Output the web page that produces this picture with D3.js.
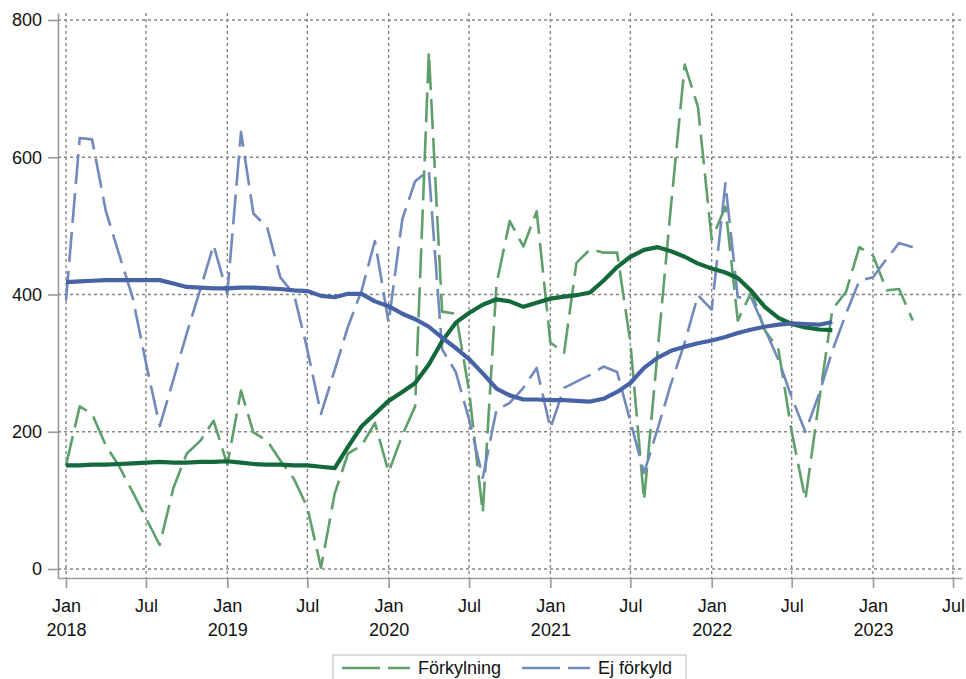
<!DOCTYPE html>
<html>
<head>
<meta charset="utf-8">
<script src="https://cdn.jsdelivr.net/npm/d3@7"></script>
<style>
  body { margin: 0; background: #fff; }
  svg { display: block; }
  text { font-family: "Liberation Sans", Arial, Helvetica, sans-serif; fill: #111; }
</style>
</head>
<body>
<svg id="chart" width="966" height="679"></svg>
<script>
// Monthly counts, January 2018 onwards
const firstYear = 2018;
const forkylning = [
  151, 237, 226, 180, 150, 112, 74, 35, 118, 168, 187, 216,
  152, 260, 199, 187, 158, 131, 90, 2, 110, 168, 180, 213,
  141, 195, 237, 753, 375, 372, 260, 82, 415, 507, 470, 521,
  330, 315, 446, 466, 461, 461, 330, 100, 320, 530, 735, 673,
  480, 528, 362, 404, 348, 320, 200, 101, 245, 378, 404, 469,
  457, 406, 408, 362
];
const ejForkyld = [
  391, 628, 626, 522, 459, 395, 300, 208, 276, 343, 408, 472,
  401, 637, 518, 498, 425, 400, 320, 226, 290, 353, 406, 478,
  359, 510, 565, 581, 320, 287, 218, 133, 232, 242, 264, 293,
  205, 264, 273, 283, 295, 287, 215, 140, 205, 270, 330, 399,
  378, 562, 396, 395, 350, 305, 250, 200, 255, 318, 372, 420,
  425, 452, 475, 469
];
// Moving averages (January 2018 – October 2022)
const forkylningMA = [
  151, 151, 152, 152, 153, 154, 155, 156, 155, 155, 156, 156,
  157, 155, 153, 152, 152, 151, 151, 149, 147, 178, 208, 226,
  245, 258, 271, 298, 332, 359, 373, 385, 393, 390, 382, 388,
  394, 397, 399, 403, 420, 440, 455, 465, 469, 463, 455, 445,
  438, 432, 424, 405, 382, 366, 357, 352, 349, 348
];
const ejForkyldMA = [
  418, 419, 420, 421, 421, 421, 421, 421, 416, 411, 410, 409,
  409, 410, 410, 409, 408, 406, 405, 398, 396, 401, 401, 390,
  383, 372, 364, 353, 337, 322, 306, 285, 263, 253, 247, 247,
  246, 246, 245, 244, 248, 258, 271, 293, 308, 318, 324, 329,
  333, 338, 344, 349, 353, 356, 358, 357, 356, 360
];
const yTicks = [0, 200, 400, 600, 800];
const monthLabels = ["Jan", "Jul"];
const seriesNames = ["Förkylning", "Ej förkyld"];

const colors = {
  greenDash: "#5f9f6c",
  greenMA: "#13693a",
  blueDash: "#7189bb",
  blueMA: "#4863a5"
};

const monthDate = i => new Date(Date.UTC(firstYear, i, 1));

const svg = d3.select("#chart");

// Scales: plot box runs a little past the first/last ticks
const x = d3.scaleUtc()
  .domain([monthDate(0), monthDate(66)])
  .range([66, 953]);
x.domain([x.invert(58), x.invert(962)]).range([58, 962]);

const y = d3.scaleLinear().domain([0, 800]).range([569, 20]);
y.domain([y.invert(578), y.invert(13)]).range([578, 13]);

const xTicks = d3.range(0, 67, 6).map(monthDate);

// Grid
const grid = svg.append("g").attr("stroke", "#858585").attr("stroke-width", 1.4)
  .attr("stroke-dasharray", "3,3");
grid.selectAll("line.h").data(yTicks).join("line")
  .attr("class", "h")
  .attr("x1", 58).attr("x2", 962)
  .attr("y1", d => y(d)).attr("y2", d => y(d));
grid.selectAll("line.v").data(xTicks).join("line")
  .attr("class", "v")
  .attr("x1", d => x(d)).attr("x2", d => x(d))
  .attr("y1", 13).attr("y2", 578);

// Axes
const yAxis = svg.append("g")
  .attr("transform", "translate(58,0)")
  .call(d3.axisLeft(y).tickValues(yTicks).tickSize(10).tickSizeOuter(0).tickPadding(6));
const xAxis = svg.append("g")
  .attr("transform", "translate(0,578)")
  .call(d3.axisBottom(x).tickValues(xTicks).tickSize(10).tickSizeOuter(0)
    .tickFormat(d => monthLabels[d.getUTCMonth() === 0 ? 0 : 1]));

[yAxis, xAxis].forEach(g => {
  g.select(".domain").attr("stroke", "#9a9a9a").attr("stroke-width", 1.6);
  g.selectAll(".tick line").attr("stroke", "#9a9a9a").attr("stroke-width", 1.6);
  g.selectAll(".tick text").attr("font-size", 18).attr("fill", "#111")
    .attr("font-family", "'Liberation Sans', Arial, sans-serif");
});

xAxis.selectAll(".tick text").each(function(d) {
  const t = d3.select(this);
  const label = t.text();
  t.text(null).attr("y", 0).attr("dy", null);
  t.append("tspan").attr("x", 0).attr("y", 34).text(label);
  if (d.getUTCMonth() === 0) {
    t.append("tspan").attr("x", 0).attr("y", 58).text(d.getUTCFullYear());
  }
});

// Series
const line = d3.line().x((d, i) => x(monthDate(i))).y(d => y(d));
const plot = svg.append("g").attr("fill", "none").attr("stroke-linejoin", "round");

plot.append("path").datum(forkylning)
  .attr("d", line).attr("stroke", colors.greenDash).attr("stroke-width", 2.6)
  .attr("stroke-dasharray", "30,9");
plot.append("path").datum(ejForkyld)
  .attr("d", line).attr("stroke", colors.blueDash).attr("stroke-width", 2.6)
  .attr("stroke-dasharray", "30,9");
plot.append("path").datum(forkylningMA)
  .attr("d", line).attr("stroke", colors.greenMA).attr("stroke-width", 4.2);
plot.append("path").datum(ejForkyldMA)
  .attr("d", line).attr("stroke", colors.blueMA).attr("stroke-width", 4.2);

// Legend
const legend = svg.append("g");
legend.append("rect").attr("x", 333).attr("y", 655).attr("width", 353).attr("height", 34)
  .attr("fill", "#fff").attr("stroke", "#c4c4c4").attr("stroke-width", 1.2);
const items = [
  { name: seriesNames[0], color: colors.greenDash, x0: 342 },
  { name: seriesNames[1], color: colors.blueDash, x0: 522 }
];
items.forEach(it => {
  legend.append("line")
    .attr("x1", it.x0).attr("x2", it.x0 + 68).attr("y1", 668).attr("y2", 668)
    .attr("stroke", it.color).attr("stroke-width", 2.6).attr("stroke-dasharray", "38,8");
  legend.append("text").attr("x", it.x0 + 76).attr("y", 674)
    .attr("font-size", 18).text(it.name);
});
</script>
</body>
</html>
